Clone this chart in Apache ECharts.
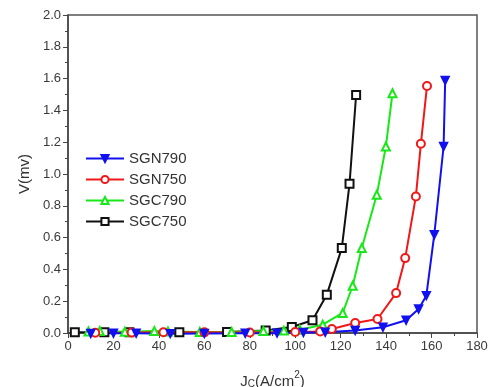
<!DOCTYPE html>
<html lang="en">
<head>
    <meta charset="UTF-8">
    <title>V vs Jc</title>
    <script src="https://cdn.jsdelivr.net/npm/echarts@6.0.0/dist/echarts.min.js"></script>
</head>
<body style="margin: 0; background-color: white;">
<div id="chart" style="width: 489px; height: 387px;"></div>

<script>
    // data: [Jc (A/cm2), V (mV)]
    const seriesNames = ['SGN790', 'SGN750', 'SGC790', 'SGC750'];
    const seriesColors = ['#1010f0', '#f01818', '#18e818', '#111111'];

    const sgn790 = [
        [10, -0.003], [20, -0.002], [30, -0.002], [45, -0.004], [60, -0.003],
        [78, -0.002], [92, -0.001], [103.6, 0.003], [113.2, 0.005], [126.4, 0.015],
        [138.6, 0.036], [148.8, 0.08], [154.3, 0.151], [157.7, 0.235],
        [161.2, 0.618], [165.3, 1.173], [166, 1.588]
    ];
    const sgn750 = [
        [12, 0.002], [28, 0.003], [42, 0.005], [60, 0.004], [80, 0.003],
        [100, 0.006], [111, 0.01], [116.1, 0.025], [126.4, 0.063], [136.2, 0.088],
        [144.4, 0.251], [148.4, 0.471], [153.1, 0.859], [155.3, 1.19], [158, 1.554]
    ];
    const sgc790 = [
        [9, 0.01], [14, 0.012], [25, 0.008], [38, 0.012], [44, 0.01], [58, 0.006],
        [72, 0.006], [86, 0.012], [95, 0.015], [102, 0.02], [112.1, 0.052],
        [120.9, 0.126], [125.3, 0.297], [129.3, 0.534], [135.9, 0.869],
        [139.9, 1.173], [142.8, 1.508]
    ];
    const sgc750 = [
        [3, 0.005], [16, 0.004], [27, 0.004], [49, 0.005], [70, 0.006],
        [87, 0.015], [98.5, 0.038], [107.6, 0.08], [113.9, 0.241],
        [120.5, 0.534], [123.9, 0.938], [126.8, 1.497]
    ];

    const seriesData = [sgn790, sgn750, sgc790, sgc750];
    const plotSymbols = ['path://M0,0 L10,0 L5,10 Z', 'emptyCircle', 'emptyTriangle', 'emptyRect'];

    const xTicks = { min: 0, max: 180, interval: 20 };
    const yTicks = { min: 0, max: 2, interval: 0.2 };

    const myChart = echarts.init(document.getElementById('chart'));

    const axisText = { color: '#3a3a3a', fontFamily: 'Liberation Sans', fontSize: 13 };

    const option = {
        animation: false,
        textStyle: { fontFamily: 'Liberation Sans' },
        grid: {
            left: 68, right: 12, top: 15, bottom: 54,
            outerBoundsMode: 'none',
            containLabel: false,
            show: true, borderColor: '#555', borderWidth: 1.5
        },
        legend: {
            orient: 'vertical',
            left: 80,
            top: 146,
            itemWidth: 38,
            itemHeight: 9,
            itemGap: 6,
            textStyle: { fontSize: 15, color: '#333', fontFamily: 'Liberation Sans' },
            data: seriesNames.map((n, i) => ({
                name: n,
                itemStyle: { color: seriesColors[i], borderColor: seriesColors[i] }
            }))
        },
        xAxis: {
            type: 'value',
            min: xTicks.min, max: xTicks.max, interval: xTicks.interval,
            name: '{a|J}{s|C}{a|(A/cm}{p|2}{a|)}',
            nameLocation: 'middle',
            nameGap: 36,
            nameTextStyle: {
                rich: {
                    a: { fontSize: 15, color: '#333', fontFamily: 'Liberation Sans', verticalAlign: 'bottom' },
                    s: { fontSize: 10, color: '#333', fontFamily: 'Liberation Sans', padding: [10, 0, 0, 0] },
                    p: { fontSize: 10, color: '#333', fontFamily: 'Liberation Sans', padding: [0, 0, 8, 0] }
                }
            },
            axisLine: { lineStyle: { color: '#444', width: 1.5 } },
            axisTick: { inside: false, length: 5, lineStyle: { color: '#444' } },
            minorTick: { show: true, splitNumber: 2, length: 3, lineStyle: { color: '#444' } },
            axisLabel: Object.assign({ margin: 7 }, axisText),
            splitLine: { show: false }
        },
        yAxis: {
            type: 'value',
            min: yTicks.min, max: yTicks.max, interval: yTicks.interval,
            name: 'V(mv)',
            nameLocation: 'middle',
            nameGap: 33,
            nameTextStyle: { fontSize: 15, color: '#333', fontFamily: 'Liberation Sans' },
            axisLine: { lineStyle: { color: '#444', width: 1.5 } },
            axisTick: { inside: false, length: 5, lineStyle: { color: '#444' } },
            minorTick: { show: true, splitNumber: 2, length: 3, lineStyle: { color: '#444' } },
            axisLabel: Object.assign({ margin: 7, formatter: v => v.toFixed(1) }, axisText),
            splitLine: { show: false }
        },
        series: seriesNames.map((n, i) => ({
            name: n,
            type: 'line',
            data: seriesData[i],
            clip: false,
            symbol: plotSymbols[i],
            symbolSize: 8,
            showAllSymbol: true,
            color: seriesColors[i],
            lineStyle: { width: 2, color: seriesColors[i] },
            itemStyle: { color: seriesColors[i], borderColor: seriesColors[i], borderWidth: 1.5 }
        })).reverse()
    };

    myChart.setOption(option);
</script>
</body>
</html>
